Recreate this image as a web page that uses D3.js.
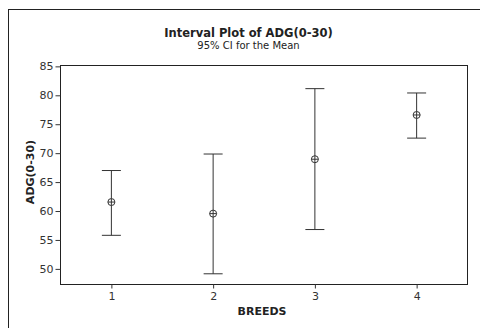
<!DOCTYPE html>
<html><head><meta charset="utf-8">
<script src="https://cdn.jsdelivr.net/npm/d3@7"></script>
<style>body{margin:0;background:#fff}svg{display:block}text{font-family:"DejaVu Sans",Verdana,sans-serif}</style>
</head><body><svg id="c" width="480" height="328"></svg>
<script>
const breeds = ["1", "2", "3", "4"];
const means = [61.55, 59.55, 68.95, 76.6];
const lower = [55.8, 49.15, 56.8, 72.6];
const upper = [67.0, 69.85, 81.15, 80.4];
const yTicks = [50, 55, 60, 65, 70, 75, 80, 85];

const svg = d3.select("#c");
const L = 60.5, R = 467.5, T = 65.5, B = 284.5;
const x = d3.scaleLinear().domain([0.5, 4.5]).range([L, R]);
const y = d3.scaleLinear().domain([47.3, 85.15]).range([B, T]);

// outer border
svg.append("rect").attr("x", 8.5).attr("y", 9.5).attr("width", 480).attr("height", 330)
  .attr("fill", "none").attr("stroke", "#222").attr("stroke-width", 1);

// title
svg.append("text").attr("x", 248.5).attr("y", 37).attr("text-anchor", "middle")
  .attr("font-weight", "bold").attr("font-size", 11.5).attr("fill", "#222").text("Interval Plot of ADG(0-30)");
svg.append("text").attr("x", 248.5).attr("y", 49).attr("text-anchor", "middle")
  .attr("font-size", 10).attr("fill", "#222").text("95% CI for the Mean");

// frame
svg.append("rect").attr("x", L).attr("y", T).attr("width", R - L).attr("height", B - T)
  .attr("fill", "none").attr("stroke", "#222").attr("stroke-width", 1);

// y axis
const ya = svg.append("g").attr("transform", `translate(${L},0)`)
  .call(d3.axisLeft(y).tickValues(yTicks).tickSize(5).tickPadding(2));
ya.select(".domain").remove();
ya.selectAll("line").attr("stroke", "#333");
ya.selectAll("text").attr("font-size", 11).attr("fill", "#333").attr("font-family", '"DejaVu Sans",Verdana,sans-serif');

// x axis
const xa = svg.append("g").attr("transform", `translate(0,${B})`)
  .call(d3.axisBottom(x).tickValues([1, 2, 3, 4]).tickFormat((d, i) => breeds[i]).tickSize(4).tickPadding(4));
xa.select(".domain").remove();
xa.selectAll("line").attr("stroke", "#333");
xa.selectAll("text").attr("font-size", 11).attr("fill", "#333").attr("font-family", '"DejaVu Sans",Verdana,sans-serif');

// axis titles
svg.append("text").attr("x", 262).attr("y", 315).attr("text-anchor", "middle")
  .attr("font-weight", "bold").attr("font-size", 11).attr("fill", "#222").text("BREEDS");
svg.append("text").attr("transform", "translate(34,172) rotate(-90)").attr("text-anchor", "middle")
  .attr("font-weight", "bold").attr("font-size", 11).attr("fill", "#222").text("ADG(0-30)");

// interval bars
const data = breeds.map((b, i) => ({ b: i + 1, m: means[i], lo: lower[i], hi: upper[i] }));
const g = svg.append("g").attr("stroke", "#333").attr("stroke-width", 1).attr("fill", "none");
const cap = 9.5;
data.forEach(d => {
  const cx = x(d.b);
  g.append("line").attr("x1", cx).attr("x2", cx).attr("y1", y(d.hi)).attr("y2", y(d.lo));
  g.append("line").attr("x1", cx - cap).attr("x2", cx + cap).attr("y1", y(d.hi)).attr("y2", y(d.hi));
  g.append("line").attr("x1", cx - cap).attr("x2", cx + cap).attr("y1", y(d.lo)).attr("y2", y(d.lo));
  const cy = y(d.m);
  g.append("circle").attr("cx", cx).attr("cy", cy).attr("r", 3.5).attr("fill", "#fff");
  g.append("line").attr("x1", cx - 3.5).attr("x2", cx + 3.5).attr("y1", cy).attr("y2", cy);
  g.append("line").attr("x1", cx).attr("x2", cx).attr("y1", cy - 3.5).attr("y2", cy + 3.5);
});
</script></body></html>
